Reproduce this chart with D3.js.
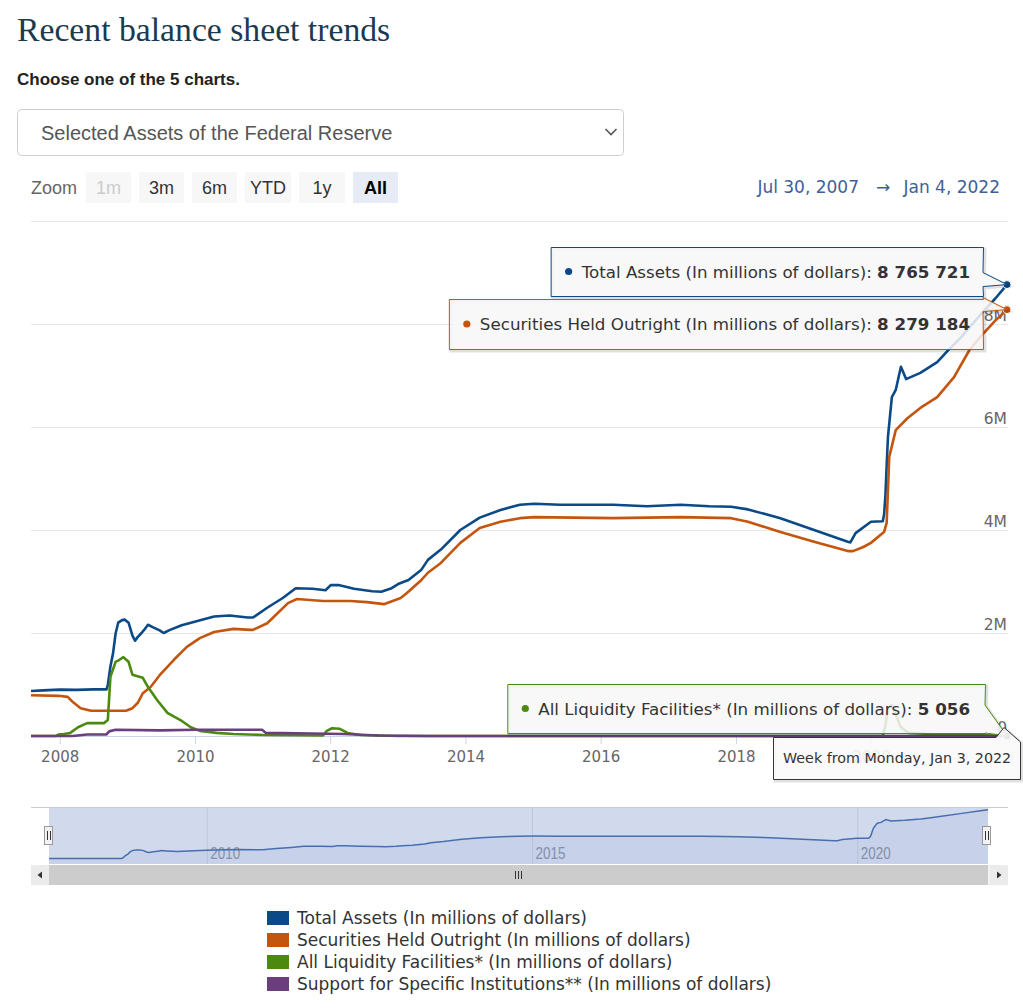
<!DOCTYPE html>
<html><head><meta charset="utf-8">
<script src="https://cdn.jsdelivr.net/npm/d3@7/dist/d3.min.js"></script>
<style>
html,body{margin:0;padding:0;background:#fff;}
svg{display:block;}
</style></head><body>
<svg id="c" width="1023" height="1008"></svg>
<script>
// ---------------- DATA ----------------
const seriesNames = [
  "Total Assets (In millions of dollars)",
  "Securities Held Outright (In millions of dollars)",
  "All Liquidity Facilities* (In millions of dollars)",
  "Support for Specific Institutions** (In millions of dollars)"
];
const seriesColors = ["#0b4a86", "#c4550f", "#4b8a0e", "#6b3e7e"];

const totalAssets = [
["2007-07-30",875000],["2007-10-03",885000],["2008-01-02",900000],["2008-04-02",895000],["2008-07-02",905000],
["2008-09-10",905000],["2008-09-17",990000],["2008-10-01",1350000],["2008-10-15",1600000],["2008-10-29",1990000],
["2008-11-12",2200000],["2008-12-03",2250000],["2008-12-17",2260000],["2009-01-07",2200000],["2009-01-28",1950000],
["2009-02-11",1850000],["2009-02-25",1920000],["2009-03-18",2000000],["2009-04-01",2060000],["2009-04-22",2160000],
["2009-05-20",2110000],["2009-06-24",2050000],["2009-07-15",2000000],["2009-08-19",2060000],["2009-10-21",2150000],
["2009-12-30",2220000],["2010-04-14",2320000],["2010-07-07",2340000],["2010-10-13",2300000],["2010-11-10",2300000],
["2011-01-26",2490000],["2011-04-20",2680000],["2011-06-29",2870000],["2011-09-28",2860000],["2011-12-07",2830000],
["2012-01-04",2930000],["2012-02-15",2930000],["2012-05-09",2860000],["2012-08-15",2810000],["2012-10-03",2800000],
["2012-11-28",2870000],["2013-01-02",2950000],["2013-02-27",3030000],["2013-05-08",3230000],["2013-06-12",3420000],
["2013-08-21",3620000],["2013-12-04",4000000],["2014-03-19",4240000],["2014-07-09",4390000],["2014-10-22",4490000],
["2015-01-07",4510000],["2015-05-27",4490000],["2015-10-14",4490000],["2016-03-09",4490000],["2016-09-07",4460000],
["2017-03-08",4490000],["2017-08-09",4460000],["2017-12-06",4450000],["2018-03-07",4400000],["2018-08-29",4230000],
["2019-02-27",4000000],["2019-08-28",3770000],["2019-09-11",3760000],["2019-10-09",3940000],["2019-12-31",4160000],
["2020-03-04",4170000],["2020-03-11",4300000],["2020-03-18",4660000],["2020-03-25",5250000],["2020-04-01",5810000],
["2020-04-22",6580000],["2020-05-13",6720000],["2020-06-10",7170000],["2020-07-08",6930000],["2020-09-23",7050000],
["2020-12-23",7260000],["2021-02-17",7480000],["2021-04-28",7730000],["2021-08-11",8170000],["2021-11-03",8500000],
["2022-01-04",8765721]
];

const securitiesHeld = [
["2007-07-30",790000],["2007-12-26",780000],["2008-02-13",760000],["2008-03-12",660000],["2008-04-23",540000],
["2008-06-18",490000],["2008-10-01",490000],["2008-12-24",490000],["2009-01-28",540000],["2009-02-25",640000],
["2009-03-25",830000],["2009-05-06",950000],["2009-06-24",1180000],["2009-09-09",1480000],["2009-11-18",1730000],
["2010-01-27",1900000],["2010-04-14",2020000],["2010-07-28",2080000],["2010-10-27",2060000],["2010-11-10",2060000],
["2011-01-26",2190000],["2011-05-18",2580000],["2011-07-06",2660000],["2011-11-23",2620000],["2012-04-18",2620000],
["2012-07-18",2600000],["2012-10-17",2560000],["2013-01-16",2680000],["2013-02-20",2780000],["2013-05-08",3030000],
["2013-06-12",3170000],["2013-08-21",3360000],["2013-12-04",3750000],["2014-03-19",4040000],["2014-07-09",4160000],
["2014-10-22",4230000],["2015-01-07",4250000],["2016-03-09",4230000],["2017-03-08",4250000],["2017-12-06",4230000],
["2018-03-07",4160000],["2018-08-29",3960000],["2019-02-27",3770000],["2019-08-28",3590000],["2019-09-25",3590000],
["2019-11-20",3670000],["2019-12-31",3750000],["2020-03-04",3940000],["2020-03-11",3960000],["2020-03-25",4140000],
["2020-04-08",5420000],["2020-05-13",5940000],["2020-07-15",6170000],["2020-09-23",6370000],["2020-12-23",6580000],
["2021-03-24",6970000],["2021-06-16",7500000],["2021-08-25",7800000],["2021-11-03",8070000],["2022-01-04",8279184]
];

const liquidityFacilities = [
["2007-07-30",0],["2007-12-12",0],["2007-12-26",30000],["2008-01-23",40000],["2008-02-27",60000],
["2008-04-09",170000],["2008-05-28",250000],["2008-08-27",250000],["2008-09-17",310000],["2008-10-01",1150000],
["2008-10-29",1440000],["2008-11-19",1480000],["2008-12-10",1530000],["2009-01-07",1440000],["2009-01-28",1190000],
["2009-03-25",1130000],["2009-04-22",950000],["2009-06-10",700000],["2009-08-05",450000],["2009-10-14",310000],
["2009-12-09",170000],["2010-01-27",100000],["2010-04-28",60000],["2010-07-28",40000],["2011-01-05",20000],
["2011-11-23",10000],["2011-12-14",100000],["2012-01-11",150000],["2012-02-22",140000],["2012-04-04",60000],
["2012-06-13",20000],["2013-01-02",0],["2020-03-04",0],["2020-03-18",200000],["2020-04-01",560000],
["2020-04-22",600000],["2020-06-10",170000],["2020-07-22",60000],["2020-12-30",30000],["2022-01-04",5056]
];

const specificSupport = [
["2007-07-30",0],["2008-03-12",0],["2008-05-28",30000],["2008-09-10",30000],["2008-09-24",90000],
["2008-10-29",120000],["2009-06-24",110000],["2010-01-06",120000],["2010-12-29",120000],["2011-01-19",60000],
["2011-09-21",50000],["2012-03-14",40000],["2012-09-19",10000],["2013-06-19",0],["2022-01-04",0]
];

const yTickValues = [0, 2000000, 4000000, 6000000, 8000000, 10000000];
const yTickLabels = ["0", "2M", "4M", "6M", "8M", ""];
const xTickYears = [2008, 2010, 2012, 2014, 2016, 2018, 2020];
const navTickYears = [2010, 2015, 2020];
const zoomButtons = ["1m", "3m", "6m", "YTD", "1y", "All"];
const rangeStart = "2007-07-30", rangeEnd = "2022-01-04";
const rangeLabels = ["Jul 30, 2007", "Jan 4, 2022"];
const headerText = "Week from Monday, Jan 3, 2022";
const tooltipSeries = [0, 1, 2];

// ---------------- RENDER ----------------
const parse = d3.timeParse("%Y-%m-%d");
const toPts = arr => arr.map(d => ({date: parse(d[0]), value: d[1]}));
const series = [totalAssets, securitiesHeld, liquidityFacilities, specificSupport].map(toPts);
const svg = d3.select("#c");
const FONT = "DejaVu Sans, Verdana, sans-serif";

// Title etc.
svg.append("text").attr("x", 17).attr("y", 41).attr("font-family", "Liberation Serif, Georgia, serif")
  .attr("font-size", 33.7).attr("fill", "#1b3a50").text("Recent balance sheet trends");
svg.append("text").attr("x", 17).attr("y", 85).attr("font-family", "Liberation Sans, Arial, sans-serif")
  .attr("font-size", 17).attr("font-weight", "bold").attr("fill", "#222").text("Choose one of the 5 charts.");
svg.append("rect").attr("x", 17.5).attr("y", 109.5).attr("width", 606).attr("height", 46).attr("rx", 4)
  .attr("fill", "#fff").attr("stroke", "#cfcfcf");
svg.append("text").attr("x", 41).attr("y", 139.5).attr("font-family", "Liberation Sans, Arial, sans-serif")
  .attr("font-size", 20).attr("fill", "#555").text("Selected Assets of the Federal Reserve");
svg.append("path").attr("d", "M605.5,129 L611,134.5 L616.5,129").attr("fill", "none").attr("stroke", "#555").attr("stroke-width", 1.6);

// Zoom buttons
svg.append("text").attr("x", 31).attr("y", 193.5).attr("font-family", "Liberation Sans, Arial, sans-serif")
  .attr("font-size", 18).attr("fill", "#666").text("Zoom");
const btnX = [86, 139, 192, 245, 299, 353], btnW = [45, 45, 45, 46, 46, 45];
zoomButtons.forEach((b, i) => {
  const sel = b === "All", dis = b === "1m";
  svg.append("rect").attr("x", btnX[i]).attr("y", 172).attr("width", btnW[i]).attr("height", 31)
    .attr("fill", sel ? "#e6ebf5" : "#f7f7f7");
  svg.append("text").attr("x", btnX[i] + btnW[i] / 2).attr("y", 193.5).attr("text-anchor", "middle")
    .attr("font-family", "Liberation Sans, Arial, sans-serif").attr("font-size", 18)
    .attr("font-weight", sel ? "bold" : "normal")
    .attr("fill", sel ? "#000" : (dis ? "#cccccc" : "#333")).text(b);
});

// Range labels
const rg = svg.append("g").attr("font-family", FONT).attr("font-size", 17).attr("fill", "#3e5f98");
rg.append("text").attr("x", 1000).attr("y", 193).attr("text-anchor", "end").text(rangeLabels[1]);
rg.append("text").attr("x", 883).attr("y", 193).attr("text-anchor", "middle").text("\u2192");
rg.append("text").attr("x", 859).attr("y", 193).attr("text-anchor", "end").text(rangeLabels[0]);

// Scales
const x = d3.scaleTime().domain([parse(rangeStart), parse(rangeEnd)]).range([31, 1007]);
const y = d3.scaleLinear().domain([0, 10000000]).range([736, 221]);

// Y axis (gridlines + right labels)
const yAxis = d3.axisLeft(y).tickValues(yTickValues).tickSize(977)
  .tickFormat((d, i) => yTickLabels[i]);
const yg = svg.append("g").attr("transform", "translate(1008,0)").call(yAxis);
yg.select(".domain").remove();
yg.selectAll(".tick line").attr("stroke", d => d === 0 ? "none" : "#e6e6e6");
yg.selectAll(".tick text").attr("x", -1).attr("dy", null).attr("y", -4).attr("text-anchor", "end")
  .attr("font-family", FONT).attr("font-size", 15.5).attr("fill", "#666");

// X axis
const xAxis = d3.axisBottom(x).tickValues(xTickYears.map(yr => new Date(yr, 0, 1)))
  .tickSize(8).tickSizeOuter(0).tickFormat(d3.timeFormat("%Y"));
const xg = svg.append("g").attr("transform", "translate(0,736)").call(xAxis);
xg.select(".domain").attr("stroke", "#ccd6eb").attr("d", "M31,0.5H1008");
xg.selectAll(".tick line").attr("stroke", "#ccd6eb");
xg.selectAll(".tick text").attr("y", 26).attr("dy", null).attr("font-family", FONT)
  .attr("font-size", 15).attr("fill", "#666");

// Lines
svg.append("clipPath").attr("id", "plotclip").append("rect")
  .attr("x", 31).attr("y", 214).attr("width", 978).attr("height", 525);
const line = d3.line().x(d => x(d.date)).y(d => y(d.value));
const lg = svg.append("g").attr("clip-path", "url(#plotclip)");
series.forEach((s, i) => {
  lg.append("path").datum(s).attr("d", line).attr("fill", "none").attr("stroke", seriesColors[i])
    .attr("stroke-width", 2.6).attr("stroke-linejoin", "round").attr("stroke-linecap", "round");
});

// Hover markers
series.forEach((s, i) => {
  const p = s[s.length - 1];
  svg.append("circle").attr("cx", x(p.date)).attr("cy", y(p.value)).attr("r", 4)
    .attr("fill", seriesColors[i]).attr("stroke", "#fff").attr("stroke-width", 1);
});

// Tooltips
const fmt = v => d3.format(",")(v).replace(/,/g, " ");
function boxPath(l, t, r, b, spike) {
  let d = `M${l},${t} H${r}`;
  spike.forEach(p => d += ` L${p[0]},${p[1]}`);
  d += ` L${r},${b} H${l} Z`;
  return d;
}
const tipCfg = [
  {right: 983, top: 247, bottom: 296, pad: 13},
  {right: 983, top: 299, bottom: 349, pad: 13},
  {right: 985, top: 684, bottom: 733, pad: 15}
];
function drawTip(k) {
  const si = tooltipSeries[k], cfg = tipCfg[k];
  const s = series[si], p = s[s.length - 1];
  const ax = x(p.date), ay = y(p.value);
  const g = svg.append("g");
  const cy = (cfg.top + cfg.bottom) / 2;
  const t = g.append("text").attr("font-family", FONT).attr("font-size", 16.7).attr("fill", "#333")
    .attr("y", cy + 6);
  t.append("tspan").text(seriesNames[si] + ": ");
  t.append("tspan").attr("font-weight", "bold").text(fmt(p.value));
  const len = t.node().getComputedTextLength();
  const textStart = cfg.right - cfg.pad - len;
  t.attr("x", textStart);
  const left = textStart - 31;
  let spike;
  if (ay < cfg.bottom - 8) spike = [[cfg.right, ay - 12], [ax, ay], [cfg.right, ay + 2]];
  else spike = [[cfg.right, cfg.bottom - 28], [ax, ay], [cfg.right, cfg.bottom]];
  const d = boxPath(left + 0.5, cfg.top + 0.5, cfg.right + 0.5, cfg.bottom + 0.5, spike);
  g.insert("path", "text").attr("d", d).attr("fill", "none").attr("stroke", "rgba(0,0,0,0.12)")
    .attr("stroke-width", 3).attr("transform", "translate(1.5,1.5)");
  g.insert("path", "text").attr("d", d).attr("fill", "rgba(247,247,247,0.86)")
    .attr("stroke", seriesColors[si]).attr("stroke-width", 1);
  g.append("circle").attr("cx", textStart - 13).attr("cy", cy).attr("r", 3.6).attr("fill", seriesColors[si]);
}
drawTip(2);
// Header (date) label
{
  const g = svg.append("g");
  const d = "M773.5,737.5 H996 L1004,727.5 L1020.5,742 V779.5 H773.5 Z";
  g.append("path").attr("d", d).attr("fill", "none").attr("stroke", "rgba(0,0,0,0.12)")
    .attr("stroke-width", 3).attr("transform", "translate(1.5,1.5)");
  g.append("path").attr("d", d).attr("fill", "rgba(250,250,250,0.9)").attr("stroke", "#333").attr("stroke-width", 1);
  g.append("text").attr("x", 783).attr("y", 763).attr("font-family", FONT).attr("font-size", 14.3)
    .attr("fill", "#333").text(headerText);
}
drawTip(0);
drawTip(1);

// ---------------- NAVIGATOR ----------------
const nx = d3.scaleTime().domain([parse(rangeStart), parse(rangeEnd)]).range([49, 988]);
const ny = d3.scaleLinear().domain([0, 9200000]).range([864, 807]);
const ng = svg.append("g");
const navAxis = d3.axisBottom(nx).tickValues(navTickYears.map(yr => new Date(yr, 0, 1)))
  .tickSize(-57).tickSizeOuter(0).tickFormat(d3.timeFormat("%Y"));
const nag = ng.append("g").attr("transform", "translate(0,864)").call(navAxis);
nag.select(".domain").remove();
nag.selectAll(".tick line").attr("stroke", "#e6e6e6");
nag.selectAll(".tick text").attr("text-anchor", "start").attr("dy", null).attr("y", -5)
  .attr("font-family", "Liberation Sans Narrow, Liberation Sans, Arial, sans-serif").attr("font-size", 16)
  .attr("fill", "#999").attr("transform", "translate(3,0) scale(0.84,1)");
const navArea = d3.area().x(d => nx(d.date)).y0(864).y1(d => ny(d.value));
const navLine = d3.line().x(d => nx(d.date)).y(d => ny(d.value));
ng.append("path").datum(series[0]).attr("d", navArea).attr("fill", "rgba(51,92,173,0.07)");
ng.append("path").datum(series[0]).attr("d", navLine).attr("fill", "none").attr("stroke", "#3a66a8").attr("stroke-width", 1.5);
ng.append("rect").attr("x", nx.range()[0]).attr("y", 808).attr("width", nx.range()[1] - nx.range()[0]).attr("height", 56)
  .attr("fill", "rgba(102,133,194,0.3)");
ng.append("path").attr("d", "M31,807.5 H1008").attr("stroke", "#cccccc").attr("fill", "none");
[49, 987].forEach(hx => {
  ng.append("rect").attr("x", hx - 4.5).attr("y", 826.5).attr("width", 8).attr("height", 18)
    .attr("fill", "#f2f2f2").attr("stroke", "#999");
  ng.append("path").attr("d", `M${hx - 1.5},831 V840 M${hx + 1.5},831 V840`).attr("stroke", "#333").attr("stroke-width", 1);
});
ng.append("rect").attr("x", 31).attr("y", 865).attr("width", 977).attr("height", 20).attr("fill", "#f2f2f2");
ng.append("rect").attr("x", 49).attr("y", 865).attr("width", 939).attr("height", 20).attr("fill", "#cccccc");
ng.append("rect").attr("x", 31).attr("y", 865).attr("width", 18).attr("height", 20).attr("fill", "#ebebeb");
ng.append("rect").attr("x", 990).attr("y", 865).attr("width", 18).attr("height", 20).attr("fill", "#ebebeb");
ng.append("path").attr("d", "M42,871.5 L37.5,875 L42,878.5 Z").attr("fill", "#333");
ng.append("path").attr("d", "M997,871.5 L1001.5,875 L997,878.5 Z").attr("fill", "#333");
ng.append("path").attr("d", "M515.5,871 V879 M518.5,871 V879 M521.5,871 V879").attr("stroke", "#333").attr("stroke-width", 1);

// ---------------- LEGEND ----------------
const legY = [918, 940, 962, 984];
seriesNames.forEach((n, i) => {
  svg.append("rect").attr("x", 267).attr("y", legY[i] - 7).attr("width", 22).attr("height", 14).attr("fill", seriesColors[i]);
  svg.append("text").attr("x", 297).attr("y", legY[i] + 6).attr("font-family", FONT).attr("font-size", 17)
    .attr("fill", "#333").text(n);
});
</script>
</body></html>
